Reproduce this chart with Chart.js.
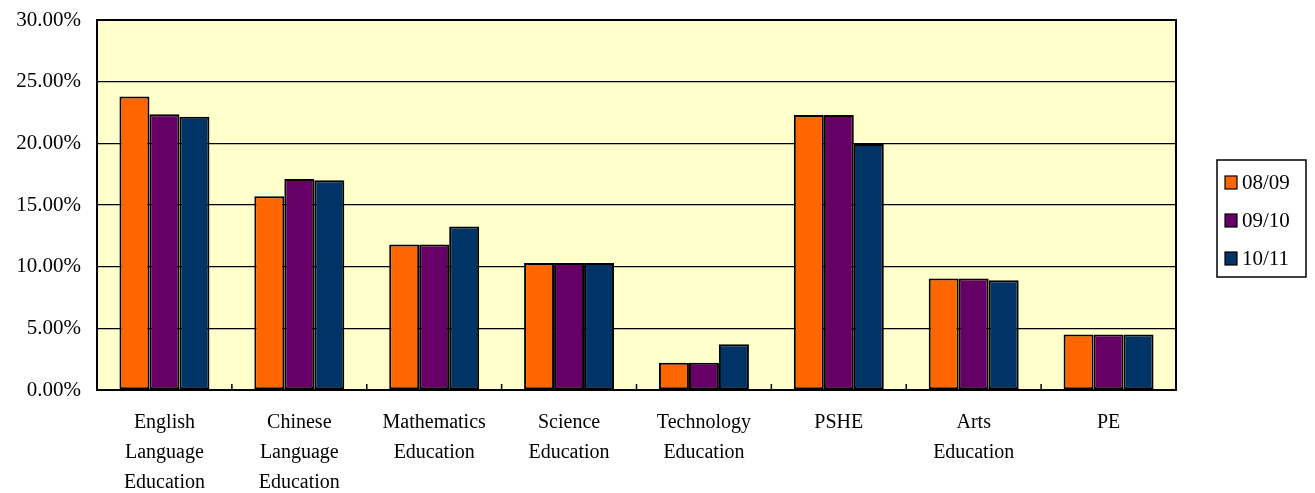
<!DOCTYPE html>
<html>
<head>
<meta charset="utf-8">
<script src="https://cdn.jsdelivr.net/npm/chart.js@4/dist/chart.umd.min.js"></script>
<style>
  html, body { margin: 0; padding: 0; background: #fff; }
  #wrap { width: 1315px; height: 493px; }
</style>
</head>
<body>
<div id="wrap"><canvas id="kla"></canvas></div>
<script>
// KLA share by year
var categories = [
    ["English", "Language", "Education"],
    ["Chinese", "Language", "Education"],
    ["Mathematics", "Education"],
    ["Science", "Education"],
    ["Technology", "Education"],
    "PSHE",
    ["Arts", "Education"],
    "PE"
];
var years = ["08/09", "09/10", "10/11"];
var y0809 = [23.8, 15.7, 11.8, 10.3, 2.2, 22.3, 9.05, 4.5];
var y0910 = [22.35, 17.1, 11.8, 10.3, 2.2, 22.3, 9.05, 4.5];
var y1011 = [22.15, 17.0, 13.25, 10.3, 3.7, 19.95, 8.9, 4.5];
var yTicks = [0, 5, 10, 15, 20, 25, 30];
var colors = ['#FF6600', '#660066', '#003366'];

var FONT = 'Liberation Serif, Times New Roman, serif';

// plot background, frame, inward category ticks, boxed legend
var frame = {
    id: 'frame',
    beforeDraw: function (chart) {
        var a = chart.chartArea, c = chart.ctx;
        c.save();
        c.fillStyle = '#FFFFCC';
        c.fillRect(a.left, a.top, a.right - a.left, a.bottom - a.top);
        c.restore();
    },
    afterDraw: function (chart) {
        var a = chart.chartArea, c = chart.ctx, x = chart.scales.x;
        c.save();
        c.strokeStyle = '#000';
        c.lineWidth = 2;
        c.strokeRect(a.left, a.top, a.right - a.left, a.bottom - a.top);
        c.lineWidth = 1.5;
        for (var i = 0; i < categories.length - 1; i++) {
            var px = (x.getPixelForValue(i) + x.getPixelForValue(i + 1)) / 2;
            c.beginPath();
            c.moveTo(px, a.bottom);
            c.lineTo(px, a.bottom - 6);
            c.stroke();
        }
        // legend box
        var lx = 1217, ly = 160, lw = 89, lh = 117;
        c.fillStyle = '#fff';
        c.fillRect(lx, ly, lw, lh);
        c.lineWidth = 1.5;
        c.strokeRect(lx, ly, lw, lh);
        c.font = '21px ' + FONT;
        c.textBaseline = 'middle';
        chart.data.datasets.forEach(function (ds, i) {
            var cy = ly + 22 + i * 38;
            c.fillStyle = ds.backgroundColor;
            c.fillRect(lx + 8, cy - 6, 12, 13);
            c.lineWidth = 1.2;
            c.strokeStyle = '#000';
            c.strokeRect(lx + 8, cy - 6, 12, 13);
            c.fillStyle = '#000';
            c.fillText(ds.label, lx + 25, cy + 1);
        });
        c.restore();
    }
};

var ctx = document.getElementById('kla').getContext('2d');
var chart = new Chart(ctx, {
    type: 'bar',
    data: {
        labels: categories,
        datasets: [y0809, y0910, y1011].map(function (d, i) {
            return {
                label: years[i],
                data: d,
                backgroundColor: colors[i],
                borderColor: '#000',
                borderWidth: 2,
                borderSkipped: false,
                categoryPercentage: 0.667,
                barPercentage: 1.0
            };
        })
    },
    options: {
        responsive: true,
        maintainAspectRatio: false,
        animation: false,
        layout: { padding: { top: 20, right: 139, left: 0, bottom: 0 } },
        plugins: {
            legend: { display: false },
            tooltip: { enabled: false }
        },
        scales: {
            x: {
                grid: { display: false, drawTicks: false },
                border: { display: false },
                ticks: {
                    color: '#000',
                    maxRotation: 0,
                    autoSkip: false,
                    padding: 18,
                    font: { family: FONT, size: 20, lineHeight: 1.5 }
                },
                afterFit: function (s) {
                    s.height = 103;
                    s.paddingLeft = 0;
                    s.paddingRight = 0;
                }
            },
            y: {
                min: 0,
                max: 30,
                afterBuildTicks: function (s) {
                    s.ticks = yTicks.map(function (v) { return { value: v }; });
                },
                grid: { color: '#000', lineWidth: 1.3, drawTicks: false },
                border: { display: false },
                ticks: {
                    color: '#000',
                    padding: 16,
                    font: { family: FONT, size: 21 },
                    callback: function (v) { return v.toFixed(2) + '%'; }
                },
                afterFit: function (s) {
                    s.width = 97;
                    s.paddingTop = 0;
                    s.paddingBottom = 0;
                }
            }
        }
    },
    plugins: [frame]
});
</script>
</body>
</html>
